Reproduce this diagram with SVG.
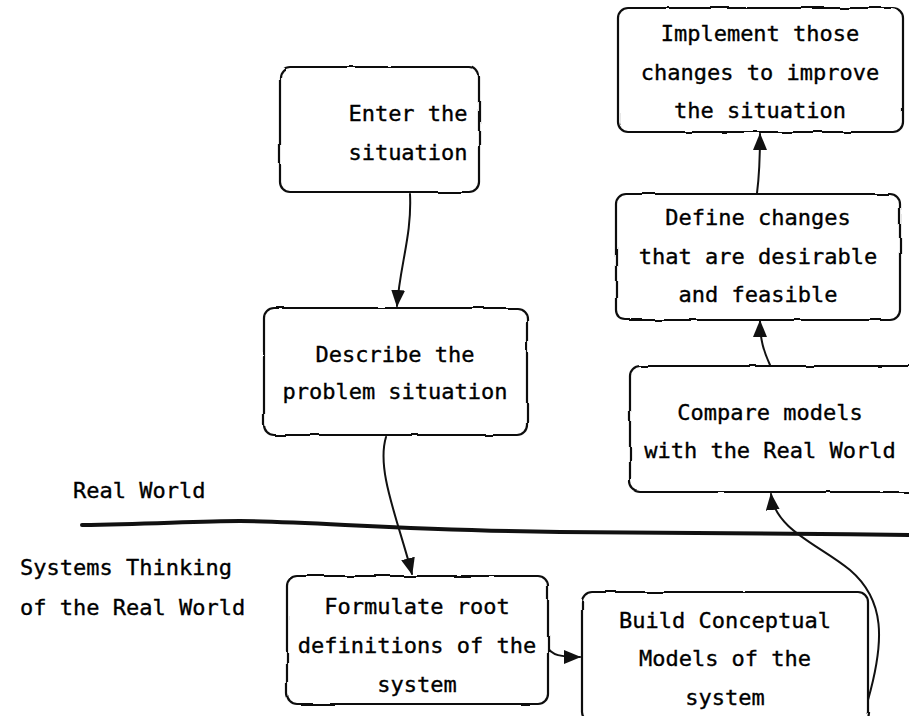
<svg xmlns="http://www.w3.org/2000/svg" width="909" height="716" viewBox="0 0 909 716">
<defs>
<style>
.box{fill:#fff;stroke:#111;stroke-width:2.2;filter:url(#rough)}
.t{font-family:"DejaVu Sans Mono","Liberation Mono",monospace;font-size:22px;fill:#000;text-anchor:middle;stroke:#000;stroke-width:0.35}
.lbl{font-family:"DejaVu Sans Mono","Liberation Mono",monospace;font-size:22px;fill:#000;stroke:#000;stroke-width:0.35}
.c{fill:none;stroke:#111;stroke-width:2;stroke-linecap:round;marker-end:url(#ah)}
</style>
<filter id="rough" x="-10%" y="-15%" width="120%" height="130%">
<feTurbulence type="fractalNoise" baseFrequency="0.03" numOctaves="2" seed="3"/>
<feDisplacementMap in="SourceGraphic" scale="3"/>
</filter>
<marker id="ah" markerUnits="userSpaceOnUse" markerWidth="17" markerHeight="14" refX="16" refY="7" orient="auto">
<path d="M0,0 L17,7 L0,14 z" fill="#111"/>
</marker>
</defs>
<rect width="909" height="716" fill="#fff"/>
<path d="M82,525 C150,524 200,521 240,521 C320,522 400,530 560,532 C700,534 800,533 909,535" fill="none" stroke="#111" stroke-width="4" stroke-linecap="round"/>
<text class="lbl" x="73" y="498">Real World</text>
<text class="lbl" x="20" y="575">Systems Thinking</text>
<text class="lbl" x="20" y="615">of the Real World</text>
<g id="connectors">
<path class="c" d="M410,194 C412,235 400,265 397,306"/>
<path class="c" d="M386,437 C376,470 398,520 412,574"/>
<path class="c" d="M549,650 C553,652 552,657 580,657"/>
<path class="c" d="M868,700 C885,640 885,600 850,570 C820,545 775,530 771,494"/>
<path class="c" d="M770,365 C764,352 760,340 760,321"/>
<path class="c" d="M757,193 C760,170 760,150 760,134"/>
</g>
<g id="implement">
<rect class="box" x="618" y="8" width="285" height="124" rx="10"/>
<text class="t" x="760" y="41">Implement those</text>
<text class="t" x="760" y="80">changes to improve</text>
<text class="t" x="760" y="118">the situation</text>
</g>
<g id="enter">
<rect class="box" x="280" y="67" width="199" height="125" rx="10"/>
<text class="t" x="408" y="121">Enter the</text>
<text class="t" x="408" y="160">situation</text>
</g>
<g id="define">
<rect class="box" x="616" y="194" width="284" height="126" rx="10"/>
<text class="t" x="758" y="225">Define changes</text>
<text class="t" x="758" y="264">that are desirable</text>
<text class="t" x="758" y="302">and feasible</text>
</g>
<g id="describe">
<rect class="box" x="264" y="308" width="263" height="127" rx="10"/>
<text class="t" x="395" y="362">Describe the</text>
<text class="t" x="395" y="399">problem situation</text>
</g>
<g id="compare">
<rect class="box" x="630" y="366" width="290" height="126" rx="10"/>
<text class="t" x="770" y="420">Compare models</text>
<text class="t" x="770" y="458">with the Real World</text>
</g>
<g id="formulate">
<rect class="box" x="287" y="576" width="261" height="128" rx="10"/>
<text class="t" x="417" y="614">Formulate root</text>
<text class="t" x="417" y="653">definitions of the</text>
<text class="t" x="417" y="692">system</text>
</g>
<g id="build">
<rect class="box" x="582" y="592" width="286" height="130" rx="10"/>
<text class="t" x="725" y="628">Build Conceptual</text>
<text class="t" x="725" y="666">Models of the</text>
<text class="t" x="725" y="705">system</text>
</g>
</svg>
